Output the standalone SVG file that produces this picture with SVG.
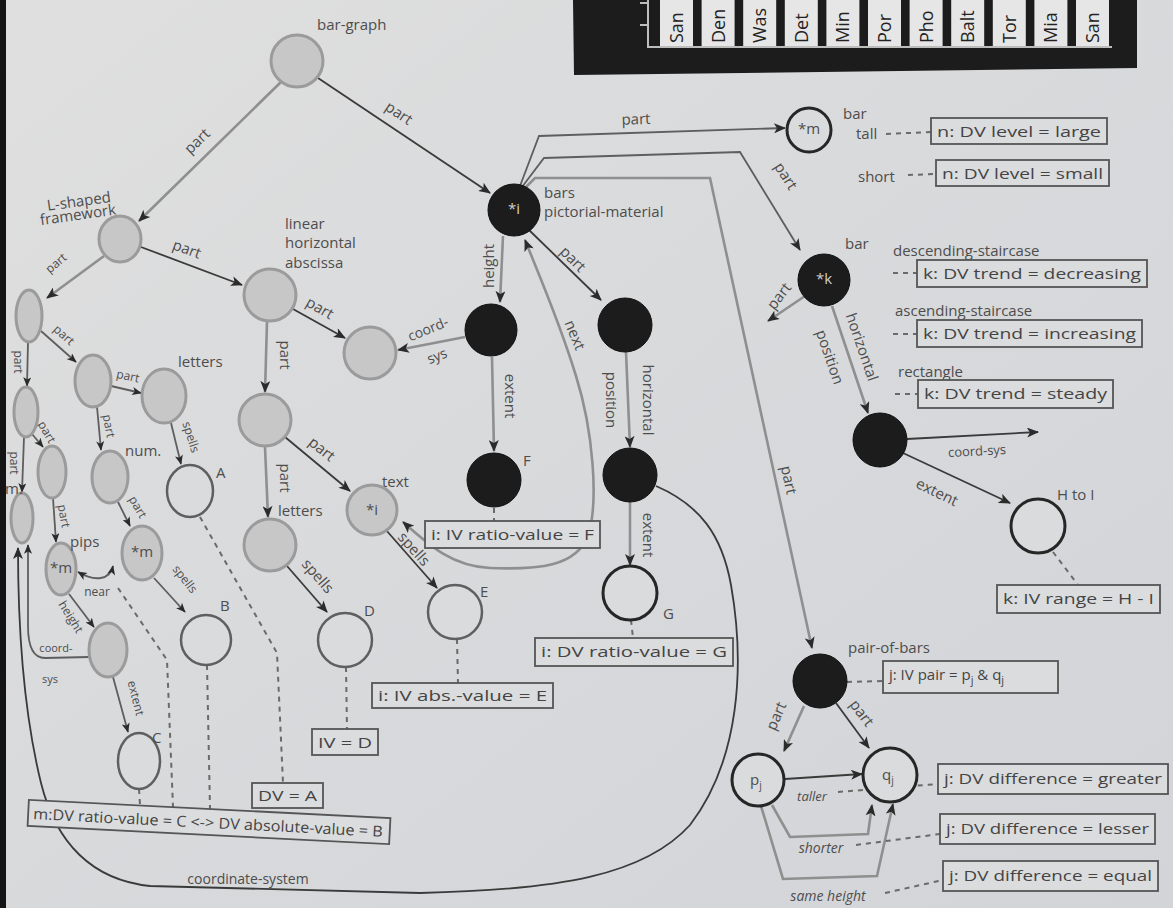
<svg xmlns="http://www.w3.org/2000/svg" width="1173" height="908" viewBox="0 0 1173 908">
<defs>
<linearGradient id="bg" x1="0" y1="0" x2="1" y2="1">
<stop offset="0" stop-color="#dfdfdf"/><stop offset="1" stop-color="#d2d4d8"/>
</linearGradient>
<marker id="ah" viewBox="0 0 12 10" refX="11" refY="5" markerWidth="13" markerHeight="10" orient="auto-start-reverse" markerUnits="userSpaceOnUse">
<path d="M0,0 L12,5 L0,10 L3,5 z" fill="#2b2b2b"/>
</marker>
<marker id="as" viewBox="0 0 12 10" refX="11" refY="5" markerWidth="10" markerHeight="8" orient="auto-start-reverse" markerUnits="userSpaceOnUse">
<path d="M0,0 L12,5 L0,10 L3,5 z" fill="#2b2b2b"/>
</marker>
<style>
.t{font-family:"Open Sans","Liberation Sans",sans-serif;fill:#4d4d4d;font-size:15px}
.sm{font-size:12px}
.c{text-anchor:middle}
.it{font-style:italic}
.dk{fill:none;stroke:#3a3a3a;stroke-width:1.8}
.md{fill:none;stroke:#5e5e5e;stroke-width:1.8}
.lt{fill:none;stroke:#8f8f8f;stroke-width:2.6}
.ds{fill:none;stroke:#6a6a6a;stroke-width:2;stroke-dasharray:5 5}
.g{fill:#c7c7c7;stroke:#9b9b9b;stroke-width:3}
.w{fill:#dadbdc;stroke:#5f5f5f;stroke-width:2.5}
.wd{fill:#dadbdc;stroke:#262626;stroke-width:3}
.b{fill:#1c1c1c;stroke:#111;stroke-width:1}
.bx{fill:#dbdcde;stroke:#555;stroke-width:1.8}
.bt{font-family:"Open Sans","Liberation Sans",sans-serif;font-size:15px;fill:#444}
.cell{fill:#e6e6e6}
.ct{font-family:"Open Sans","Liberation Sans",sans-serif;font-size:18px;fill:#222}
.wt{fill:#cfcfcf}
</style>
</defs>
<rect x="0" y="0" width="1173" height="908" fill="url(#bg)"/>
<rect x="0" y="0" width="6" height="908" fill="#141414"/>

<g id="table">
<polygon points="573,0 1137,0 1137,68 574,75" fill="#1c1c1c"/>
<rect class="cell" x="660" y="0" width="33" height="46"/>
<rect class="cell" x="701.6" y="0" width="33" height="46"/>
<rect class="cell" x="743.2" y="0" width="33" height="46"/>
<rect class="cell" x="784.8" y="0" width="33" height="46"/>
<rect class="cell" x="826.4" y="0" width="33" height="46"/>
<rect class="cell" x="868" y="0" width="33" height="46"/>
<rect class="cell" x="909.6" y="0" width="33" height="46"/>
<rect class="cell" x="951.2" y="0" width="33" height="46"/>
<rect class="cell" x="992.8" y="0" width="33" height="46"/>
<rect class="cell" x="1034.4" y="0" width="33" height="46"/>
<rect class="cell" x="1076" y="0" width="33" height="46"/>
<text class="ct" transform="translate(683,43) rotate(-90)">San</text>
<text class="ct" transform="translate(724.6,43) rotate(-90)">Den</text>
<text class="ct" transform="translate(766.2,43) rotate(-90)">Was</text>
<text class="ct" transform="translate(807.8,43) rotate(-90)">Det</text>
<text class="ct" transform="translate(849.4,43) rotate(-90)">Min</text>
<text class="ct" transform="translate(891,43) rotate(-90)">Por</text>
<text class="ct" transform="translate(932.6,43) rotate(-90)">Pho</text>
<text class="ct" transform="translate(974.2,43) rotate(-90)">Balt</text>
<text class="ct" transform="translate(1015.8,43) rotate(-90)">Tor</text>
<text class="ct" transform="translate(1057.4,43) rotate(-90)">Mia</text>
<text class="ct" transform="translate(1099,43) rotate(-90)">San</text>
<path d="M648,0 L648,47 L1112,47 M640,3 L648,3 M640,25 L648,25" fill="none" stroke="#bdbdbd" stroke-width="2"/>
</g>

<g id="connectors">
<path class="lt" d="M281,82 L139,221" marker-end="url(#ah)"/>
<path class="dk" d="M318,78 L490,193" marker-end="url(#ah)"/>
<path class="lt" d="M104,256 L47,298" marker-end="url(#ah)"/>
<path class="dk" d="M141,247 L242,285" marker-end="url(#ah)"/>
<path class="lt" d="M267,322 L265,392" marker-end="url(#ah)"/>
<path class="dk" d="M293,309 L345,338" marker-end="url(#ah)"/>
<path class="lt" d="M265,447 L268,517" marker-end="url(#ah)"/>
<path class="dk" d="M285,437 L350,491" marker-end="url(#ah)"/>
<path class="dk" d="M287,566 L327,612" marker-end="url(#ah)"/>
<path class="dk" d="M386,530 L437,588" marker-end="url(#ah)"/>
<path class="lt" d="M503,236 L500,302" marker-end="url(#ah)"/>
<path class="lt" d="M465,337 L398,350" marker-end="url(#ah)"/>
<path class="lt" d="M492,357 L494,451" marker-end="url(#ah)"/>
<path class="dk" d="M529,230 L601,300" marker-end="url(#ah)"/>
<path class="lt" d="M626,352 L630,447" marker-end="url(#ah)"/>
<path class="lt" d="M630,502 L630,565" marker-end="url(#ah)"/>
<path class="dk" d="M656,486 C700,505 722,535 731,585 C745,665 740,760 690,825 C645,875 560,890 420,893 L150,886 C92,880 56,843 41,783 C26,722 18,640 18,548" marker-end="url(#ah)"/>
<path class="lt" d="M403,522 C430,546 452,566 490,568 C540,570 576,566 588,536 C599,502 593,430 576,376 C561,326 542,282 525,240" marker-start="url(#ah)" marker-end="url(#ah)"/>
<path class="md" d="M520,186 L539,136 L785,128" marker-end="url(#ah)"/>
<path class="md" d="M522,187 L544,158 L740,152 L800,250" marker-end="url(#ah)"/>
<path class="lt" d="M524,189 L535,178 L710,178 L812,648" marker-end="url(#ah)"/>
<path class="lt" d="M805,296 L768,321" marker-end="url(#ah)"/>
<path class="lt" d="M832,306 L868,413" marker-end="url(#ah)"/>
<path class="dk" d="M907,439 L1038,432" marker-end="url(#ah)"/>
<path class="dk" d="M903,453 L1010,503" marker-end="url(#ah)"/>
<path class="lt" d="M804,706 L784,751" marker-end="url(#ah)"/>
<path class="dk" d="M836,703 L869,748" marker-end="url(#ah)"/>
<path class="dk" d="M785,779 L862,774" marker-end="url(#ah)"/>
<path class="lt" d="M772,805 L790,837 L868,834 L872,805" marker-end="url(#ah)"/>
<path class="lt" d="M761,806 L783,879 L877,876 L893,804" marker-end="url(#ah)"/>
<path class="md" d="M41,331 L76,362" marker-end="url(#as)"/>
<path class="md" d="M28,342 L27,386" marker-end="url(#as)"/>
<path class="md" d="M32,434 L43,447" marker-end="url(#as)"/>
<path class="md" d="M24,437 L22,492" marker-end="url(#as)"/>
<path class="md" d="M53,498 L56,542" marker-end="url(#as)"/>
<path class="md" d="M111,386 L141,393" marker-end="url(#as)"/>
<path class="md" d="M97,407 L101,450" marker-end="url(#as)"/>
<path class="md" d="M171,423 L181,464" marker-end="url(#as)"/>
<path class="md" d="M118,502 L130,526" marker-end="url(#as)"/>
<path class="md" d="M154,578 L185,612" marker-end="url(#as)"/>
<path class="md" d="M69,594 L94,627" marker-end="url(#as)"/>
<path class="md" d="M113,677 L128,732" marker-end="url(#as)"/>
<path class="md" d="M89,657 L45,658 C33,658 28,646 28,626 L28,545" marker-end="url(#as)"/>
<path class="md" d="M113,566 C110,580 95,582 78,572" marker-start="url(#as)" marker-end="url(#as)"/>

<path class="ds" d="M886,134 L931,132"/>
<path class="ds" d="M908,175 L936,174"/>
<path class="ds" d="M893,273 L917,273"/>
<path class="ds" d="M893,334 L917,334"/>
<path class="ds" d="M895,394 L918,394"/>
<path class="ds" d="M1053,552 L1078,585"/>
<path class="ds" d="M494,508 L494,521"/>
<path class="ds" d="M631,620 L633,638"/>
<path class="ds" d="M457,639 L458,683"/>
<path class="ds" d="M346,667 L347,729"/>
<path class="ds" d="M200,517 L277,653 L283,783"/>
<path class="ds" d="M207,665 L210,809"/>
<path class="ds" d="M118,588 L167,660 L173,807"/>
<path class="ds" d="M139,789 L140,805"/>
<path class="ds" d="M847,682 L883,681"/>
<path class="ds" d="M838,792 L938,784"/>
<path class="ds" d="M856,845 L940,834"/>
<path class="ds" d="M885,893 L943,880"/>

<g class="t">
<text class="c" transform="translate(197,141) rotate(-44)" dy=".35em">part</text>
<text class="c" transform="translate(399,113) rotate(34)" dy=".35em">part</text>
<text class="c sm" transform="translate(56,263) rotate(-40)" dy=".35em">part</text>
<text class="c" transform="translate(187,249) rotate(20)" dy=".35em">part</text>
<text class="c" transform="translate(285,355) rotate(90)" dy=".35em">part</text>
<text class="c" transform="translate(320,308) rotate(30)" dy=".35em">part</text>
<text class="c" transform="translate(285,478) rotate(90)" dy=".35em">part</text>
<text class="c" transform="translate(322,449) rotate(39)" dy=".35em">part</text>
<text class="c" transform="translate(318,576) rotate(49)" dy=".35em">spells</text>
<text class="c" transform="translate(414,549) rotate(48)" dy=".35em">spells</text>
<text class="c" transform="translate(489,266) rotate(-90)" dy=".35em">height</text>
<text class="c" transform="translate(428,329) rotate(-22)" dy=".35em" font-size="14">coord-</text>
<text class="c" transform="translate(437,356) rotate(-22)" dy=".35em" font-size="14">sys</text>
<text class="c" transform="translate(510,396) rotate(90)" dy=".35em">extent</text>
<text class="c" transform="translate(573,259) rotate(45)" dy=".35em">part</text>
<text class="c" transform="translate(648,400) rotate(90)" dy=".35em">horizontal</text>
<text class="c" transform="translate(611,400) rotate(90)" dy=".35em">position</text>
<text class="c" transform="translate(648,535) rotate(90)" dy=".35em">extent</text>
<text class="c" transform="translate(575,335) rotate(68)" dy=".35em">next</text>
<text class="c" transform="translate(636,119) rotate(-2)" dy=".35em">part</text>
<text class="c" transform="translate(786,176) rotate(58)" dy=".35em">part</text>
<text class="c" transform="translate(789,480) rotate(78)" dy=".35em">part</text>
<text class="c" transform="translate(779,296) rotate(-52)" dy=".35em">part</text>
<text class="c" transform="translate(862,347) rotate(71)" dy=".35em">horizontal</text>
<text class="c" transform="translate(830,357) rotate(71)" dy=".35em">position</text>
<text class="c" transform="translate(977,451) rotate(-3)" dy=".35em" font-size="13">coord-sys</text>
<text class="c" transform="translate(937,492) rotate(26)" dy=".35em">extent</text>
<text class="c" transform="translate(776,716) rotate(-66)" dy=".35em">part</text>
<text class="c" transform="translate(862,713) rotate(53)" dy=".35em">part</text>
<text class="c it" x="812" y="801" font-size="13">taller</text>
<text class="c it" x="821" y="853" font-size="14">shorter</text>
<text class="c it" x="828" y="901" font-size="14">same height</text>
<text class="c" x="248" y="884" font-size="14">coordinate-system</text>
<text class="c sm" transform="translate(64,335) rotate(42)" dy=".35em">part</text>
<text class="c sm" transform="translate(18,362) rotate(90)" dy=".35em">part</text>
<text class="c sm" transform="translate(47,432) rotate(60)" dy=".35em">part</text>
<text class="c sm" transform="translate(14,463) rotate(90)" dy=".35em">part</text>
<text class="c sm" transform="translate(64,516) rotate(80)" dy=".35em">part</text>
<text class="c sm" transform="translate(128,376) rotate(12)" dy=".35em">part</text>
<text class="c sm" transform="translate(109,426) rotate(80)" dy=".35em">part</text>
<text class="c sm" transform="translate(191,437) rotate(72)" dy=".35em">spells</text>
<text class="c sm" transform="translate(138,507) rotate(60)" dy=".35em">part</text>
<text class="c sm" transform="translate(185,579) rotate(52)" dy=".35em">spells</text>
<text class="c sm" transform="translate(71,617) rotate(58)" dy=".35em">height</text>
<text class="c sm" transform="translate(136,698) rotate(76)" dy=".35em">extent</text>
<text class="c" x="56" y="652" font-size="11">coord-</text>
<text class="c" x="50" y="683" font-size="11">sys</text>
<text class="c" x="97" y="596" font-size="12">near</text>
</g>
</g>

<g id="n-bar-graph"><circle class="g" cx="297" cy="61" r="26"/><text class="t" x="317" y="30" font-size="16">bar-graph</text></g>
<g id="n-lshaped"><ellipse class="g" cx="120" cy="239" rx="21" ry="23"/><text class="t" x="48" y="207" font-size="10.5" transform="rotate(-8 75 210)">L-shaped</text><text class="t" x="40" y="221" font-size="10.5" transform="rotate(-8 70 218)">framework</text></g>
<g id="n-abscissa"><circle class="g" cx="270" cy="295" r="26"/><text class="t" x="285" y="229">linear</text><text class="t" x="285" y="248">horizontal</text><text class="t" x="285" y="268">abscissa</text></g>
<g id="n-coordsys"><circle class="g" cx="370" cy="353" r="26"/></g>
<g id="n-abspart"><circle class="g" cx="265" cy="420" r="26"/></g>
<g id="n-letters2"><circle class="g" cx="270" cy="545" r="26"/><text class="t" x="278" y="516" font-size="14">letters</text></g>
<g id="n-text"><circle class="g" cx="372" cy="510" r="25"/><text class="t c" x="372" y="515" font-size="13">*i</text><text class="t" x="382" y="487" font-size="14">text</text></g>
<g id="n-c1a"><ellipse class="g" cx="29" cy="316" rx="13" ry="26"/></g>
<g id="n-c1b"><ellipse class="g" cx="26" cy="412" rx="12" ry="25"/></g>
<g id="n-c1c"><ellipse class="g" cx="22" cy="518" rx="11" ry="25"/><text class="t" x="5" y="494" font-size="11">m.</text></g>
<g id="n-c2a"><ellipse class="g" cx="93" cy="381" rx="18" ry="26"/></g>
<g id="n-c2b"><ellipse class="g" cx="52" cy="472" rx="14" ry="26"/></g>
<g id="n-m1"><ellipse class="g" cx="61" cy="569" rx="15" ry="26"/><text class="t c" x="61" y="573" font-size="11">*m</text><text class="t" x="70" y="547" font-size="11">pips</text></g>
<g id="n-letters1"><ellipse class="g" cx="164" cy="396" rx="22" ry="27"/><text class="t" x="178" y="367" font-size="14">letters</text></g>
<g id="n-num"><ellipse class="g" cx="110" cy="477" rx="18" ry="26"/><text class="t" x="125" y="456" font-size="14">num.</text></g>
<g id="n-m2"><ellipse class="g" cx="142" cy="553" rx="20" ry="27"/><text class="t c" x="142" y="557" font-size="12">*m</text></g>
<g id="n-heightm"><ellipse class="g" cx="108" cy="650" rx="19" ry="27"/></g>

<g id="n-A"><ellipse class="w" cx="190" cy="491" rx="23" ry="26"/><text class="t" x="216" y="478" font-size="12">A</text></g>
<g id="n-B"><circle class="w" cx="206" cy="640" r="25"/><text class="t" x="220" y="611" font-size="12">B</text></g>
<g id="n-C"><ellipse class="w" cx="139" cy="761" rx="21" ry="28"/><text class="t" x="152" y="743" font-size="12">C</text></g>
<g id="n-D"><circle class="w" cx="345" cy="640" r="27"/><text class="t" x="364" y="616" font-size="15">D</text></g>
<g id="n-E"><circle class="w" cx="455" cy="612" r="27"/><text class="t" x="480" y="597" font-size="13">E</text></g>
<g id="n-G"><circle class="wd" cx="630" cy="593" r="27"/><text class="t" x="663" y="619" font-size="15">G</text></g>
<g id="n-mtop"><circle class="wd" cx="809" cy="130" r="22"/><text class="t c" x="809" y="134" font-size="11">*m</text><text class="t" x="843" y="119" font-size="14">bar</text><text class="t" x="856" y="139" font-size="14">tall</text><text class="t" x="858" y="182" font-size="14">short</text></g>
<g id="n-HtoI"><circle class="wd" cx="1038" cy="526" r="27"/><text class="t" x="1057" y="500" font-size="13">H to I</text></g>
<g id="n-pj"><circle class="wd" cx="758" cy="780" r="26"/><text class="t" x="750" y="785" font-size="15">p<tspan font-size="10" dy="4">j</tspan></text></g>
<g id="n-qj"><circle class="wd" cx="890" cy="775" r="27"/><text class="t" x="882" y="780" font-size="15">q<tspan font-size="10" dy="4">j</tspan></text></g>

<g id="n-bars"><circle class="b" cx="514" cy="210" r="26"/><text class="t c wt" x="514" y="214" font-size="12" style="fill:#cfcfcf">*i</text><text class="t" x="544" y="198">bars</text><text class="t" x="544" y="217">pictorial-material</text></g>
<g id="n-heightnode"><circle class="b" cx="491" cy="330" r="26"/></g>
<g id="n-F"><circle class="b" cx="494" cy="480" r="27"/><text class="t" x="523" y="466" font-size="11">F</text></g>
<g id="n-hpos1"><circle class="b" cx="625" cy="325" r="27"/></g>
<g id="n-hpos2"><circle class="b" cx="630" cy="475" r="27"/></g>
<g id="n-kbar"><circle class="b" cx="824" cy="280" r="26"/><text class="t c" x="824" y="284" font-size="12" style="fill:#cfcfcf">*k</text><text class="t" x="845" y="249" font-size="14">bar</text>
<text class="t" x="893" y="256" font-size="14">descending-staircase</text><text class="t" x="895" y="316" font-size="14">ascending-staircase</text><text class="t" x="898" y="377" font-size="14">rectangle</text></g>
<g id="n-kpos"><circle class="b" cx="880" cy="440" r="27"/></g>
<g id="n-pair"><circle class="b" cx="820" cy="681" r="27"/><text class="t" x="848" y="653" font-size="14">pair-of-bars</text></g>

<g id="box-large"><rect class="bx" x="931" y="118" width="176" height="26"/><text class="bt" x="937" y="137" textLength="164" lengthAdjust="spacingAndGlyphs">n: DV level = large</text></g>
<g id="box-small"><rect class="bx" x="936" y="160" width="173" height="26"/><text class="bt" x="942" y="179" textLength="161" lengthAdjust="spacingAndGlyphs">n: DV level = small</text></g>
<g id="box-decreasing"><rect class="bx" x="917" y="260" width="230" height="27"/><text class="bt" x="923" y="279" textLength="218" lengthAdjust="spacingAndGlyphs">k: DV trend = decreasing</text></g>
<g id="box-increasing"><rect class="bx" x="917" y="320" width="225" height="27"/><text class="bt" x="923" y="339" textLength="213" lengthAdjust="spacingAndGlyphs">k: DV trend = increasing</text></g>
<g id="box-steady"><rect class="bx" x="918" y="380" width="195" height="28"/><text class="bt" x="924" y="399" textLength="183" lengthAdjust="spacingAndGlyphs">k: DV trend = steady</text></g>
<g id="box-range"><rect class="bx" x="997" y="585" width="163" height="28"/><text class="bt" x="1003" y="604" textLength="151" lengthAdjust="spacingAndGlyphs">k: IV range = H - I</text></g>
<g id="box-F"><rect class="bx" x="425" y="521" width="175" height="27"/><text class="bt" x="431" y="540" textLength="163" lengthAdjust="spacingAndGlyphs">i: IV ratio-value = F</text></g>
<g id="box-G"><rect class="bx" x="535" y="638" width="198" height="28"/><text class="bt" x="541" y="657" textLength="186" lengthAdjust="spacingAndGlyphs">i: DV ratio-value = G</text></g>
<g id="box-E"><rect class="bx" x="372" y="683" width="181" height="25"/><text class="bt" x="378" y="701" textLength="169" lengthAdjust="spacingAndGlyphs">i: IV abs.-value = E</text></g>
<g id="box-D"><rect class="bx" x="312" y="729" width="66" height="26"/><text class="bt" x="318" y="748" textLength="54" lengthAdjust="spacingAndGlyphs">IV = D</text></g>
<g id="box-A"><rect class="bx" x="252" y="783" width="71" height="25"/><text class="bt" x="258" y="801" textLength="59" lengthAdjust="spacingAndGlyphs">DV = A</text></g>
<g id="box-CB" transform="rotate(2.9 209 822)"><rect class="bx" x="28" y="809" width="362" height="26"/><text class="bt" x="33" y="828" textLength="350" lengthAdjust="spacingAndGlyphs">m:DV ratio-value = C &lt;-&gt; DV absolute-value = B</text></g>
<g id="box-pair"><rect class="bx" x="883" y="661" width="175" height="32"/><text class="bt" x="889" y="680">j: IV pair = p<tspan font-size="11" dy="4">j</tspan><tspan dy="-4"> &amp; q</tspan><tspan font-size="11" dy="4">j</tspan></text></g>
<g id="box-greater"><rect class="bx" x="938" y="764" width="230" height="30"/><text class="bt" x="944" y="784" textLength="218" lengthAdjust="spacingAndGlyphs">j: DV difference = greater</text></g>
<g id="box-lesser"><rect class="bx" x="940" y="814" width="215" height="30"/><text class="bt" x="946" y="834" textLength="203" lengthAdjust="spacingAndGlyphs">j: DV difference = lesser</text></g>
<g id="box-equal"><rect class="bx" x="943" y="861" width="215" height="30"/><text class="bt" x="949" y="881" textLength="203" lengthAdjust="spacingAndGlyphs">j: DV difference = equal</text></g>
</svg>
